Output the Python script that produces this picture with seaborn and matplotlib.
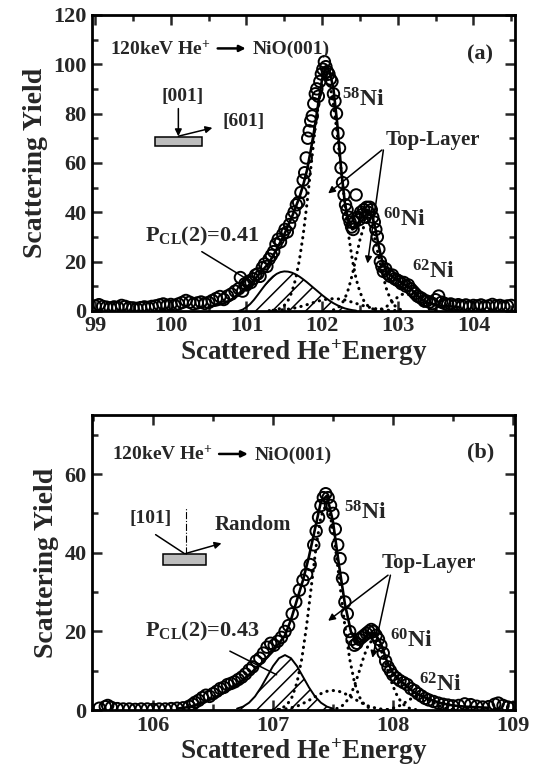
import seaborn as sns
import matplotlib.pyplot as plt
from matplotlib.patches import Rectangle
from matplotlib.ticker import MultipleLocator

sns.set_theme(style="ticks")
plt.rcParams["font.family"] = ["Liberation Serif", "DejaVu Sans"]
plt.rcParams["font.weight"] = "bold"
plt.rcParams["axes.labelweight"] = "bold"
plt.rcParams["mathtext.fontset"] = "custom"
plt.rcParams["mathtext.rm"] = "Liberation Serif:bold"
plt.rcParams["mathtext.bf"] = "Liberation Serif:bold"
plt.rcParams["mathtext.it"] = "Liberation Serif:bold:italic"
plt.rcParams["mathtext.default"] = "rm"
plt.rcParams["hatch.linewidth"] = 1.1

# ---------------- panel (a) data ----------------
a_x = [99.00, 99.05, 99.10, 99.15, 99.20, 99.25, 99.30, 99.35, 99.40, 99.45,
       99.50, 99.55, 99.60, 99.65, 99.70, 99.75, 99.80, 99.85, 99.90, 99.95,
       100.00, 100.05, 100.10, 100.15, 100.20, 100.25, 100.30, 100.35, 100.40, 100.45,
       100.50, 100.55, 100.60, 100.65, 100.70, 100.75, 100.80, 100.85, 100.90, 100.92,
       100.95, 100.98, 101.00, 101.03, 101.06, 101.09, 101.12, 101.15, 101.18, 101.21,
       101.24, 101.27, 101.30, 101.33, 101.36, 101.39, 101.42, 101.45, 101.48, 101.51,
       101.54, 101.57, 101.60, 101.63, 101.66, 101.69, 101.72, 101.75, 101.77, 101.79,
       101.81, 101.83, 101.85, 101.87, 101.89, 101.91, 101.93, 101.95, 101.97, 101.99,
       102.01, 102.03, 102.05, 102.07, 102.09, 102.11, 102.13, 102.15, 102.17, 102.19,
       102.21, 102.23, 102.25, 102.27, 102.29, 102.31, 102.33, 102.35, 102.37, 102.39,
       102.41, 102.43, 102.45, 102.47, 102.49, 102.51, 102.53, 102.55, 102.57, 102.59,
       102.61, 102.63, 102.65, 102.67, 102.69, 102.71, 102.73, 102.75, 102.77, 102.79,
       102.81, 102.84, 102.87, 102.90, 102.93, 102.96, 102.99, 103.02, 103.05, 103.08,
       103.11, 103.14, 103.17, 103.20, 103.23, 103.26, 103.29, 103.32, 103.35, 103.38,
       103.42, 103.46, 103.50, 103.54, 103.58, 103.62, 103.66, 103.70, 103.75, 103.80,
       103.85, 103.90, 103.95, 104.00, 104.05, 104.10, 104.15, 104.20, 104.25, 104.30,
       104.35, 104.40, 104.45, 104.50]
a_y = [2.0, 2.5, 1.8, 1.5, 1.2, 1.6, 1.4, 2.2, 1.8, 1.3,
       1.2, 1.0, 1.3, 1.6, 1.4, 1.8, 2.0, 2.4, 2.8, 2.2,
       2.6, 2.2, 2.8, 3.4, 4.2, 3.5, 2.8, 3.2, 3.6, 3.0,
       3.4, 4.2, 5.0, 5.8, 4.6, 6.0, 6.8, 8.0, 9.0, 13.5,
       8.0, 11.0, 10.5, 12.0, 11.5, 13.0, 14.5, 15.0, 14.0, 17.5,
       19.0, 18.0, 21.0, 22.5, 24.0, 27.0, 29.0, 28.0, 31.0, 33.0,
       32.0, 35.0, 38.0, 40.0, 43.0, 44.0, 48.0, 53.0, 56.0, 62.0,
       70.0, 73.0, 77.0, 79.0, 84.0, 88.0, 90.0, 87.0, 93.0, 96.0,
       98.0, 101.0, 99.0, 97.0, 96.0, 94.0, 93.0, 88.0, 85.0, 80.0,
       72.0, 66.0, 58.0, 52.0, 47.0, 43.0, 41.0, 38.0, 36.0, 34.0,
       33.0, 36.0, 47.0, 38.0, 37.0, 40.0, 39.0, 41.0, 38.0, 42.0,
       40.0, 42.0, 41.0, 38.0, 36.0, 33.0, 30.0, 25.0, 20.0, 18.0,
       16.0, 17.0, 15.0, 14.0, 14.5, 13.0, 12.5, 12.0, 11.0, 11.5,
       10.0, 10.5, 9.0, 8.0, 7.0, 6.0, 5.5, 5.0, 4.0, 4.0,
       3.5, 3.0, 4.5, 6.0, 3.5, 3.0, 2.5, 2.8, 2.2, 2.5,
       2.0, 2.4, 1.8, 2.2, 2.0, 2.4, 1.8, 2.0, 2.6, 2.0,
       2.2, 1.8, 2.0, 2.2]

a_fit_x = [100.5, 100.6, 100.7, 100.8, 100.9, 101.0, 101.1, 101.2, 101.3, 101.4,
           101.5, 101.6, 101.7, 101.75, 101.8, 101.85, 101.9, 101.95, 102.0, 102.05,
           102.1, 102.15, 102.2, 102.25, 102.3, 102.35, 102.4, 102.45, 102.5, 102.55,
           102.6, 102.65, 102.7, 102.75, 102.8, 102.85, 102.9, 102.95, 103.0, 103.05,
           103.1, 103.15, 103.2, 103.25, 103.3, 103.35, 103.4, 103.5, 103.6, 103.8]
a_fit_y = [1.8, 2.2, 3.0, 4.5, 7.0, 9.5, 12.5, 16.0, 19.5, 25.0,
           31.0, 38.0, 46.0, 51.0, 57.0, 65.0, 74.0, 84.0, 94.0, 99.0,
           97.0, 90.0, 76.0, 58.0, 44.0, 36.0, 33.0, 34.0, 37.0, 40.0,
           41.0, 39.5, 34.0, 26.0, 19.5, 16.0, 14.5, 13.5, 12.5, 11.5,
           10.5, 9.5, 8.0, 6.5, 5.0, 4.0, 3.3, 2.5, 2.0, 1.6]

a_cl_x = [100.90, 100.95, 101.00, 101.05, 101.10, 101.15, 101.20, 101.25, 101.30, 101.35,
          101.40, 101.45, 101.50, 101.55, 101.60, 101.65, 101.70, 101.75, 101.80, 101.85,
          101.90, 101.95, 102.00, 102.05, 102.10, 102.15, 102.20, 102.25, 102.30, 102.35,
          102.40, 102.45]
a_cl_y = [0.0, 0.5, 1.5, 2.8, 4.5, 6.5, 8.6, 10.6, 12.4, 13.9,
          15.0, 15.7, 16.0, 15.9, 15.5, 14.8, 13.9, 12.8, 11.6, 10.3,
          9.0, 7.7, 6.4, 5.2, 4.1, 3.1, 2.3, 1.6, 1.0, 0.6,
          0.3, 0.1]

a_ni58_x = [101.35, 101.40, 101.45, 101.50, 101.55, 101.60, 101.65, 101.70, 101.75, 101.80,
            101.85, 101.90, 101.95, 102.00, 102.05, 102.10, 102.15, 102.20, 102.25, 102.30,
            102.35, 102.40, 102.45, 102.50, 102.55, 102.60, 102.65, 102.70, 102.75]
a_ni58_y = [0.2, 0.5, 1.0, 2.2, 4.2, 7.6, 12.9, 20.6, 30.8, 43.5,
            57.6, 71.7, 83.8, 92.1, 95.0, 92.1, 83.8, 71.7, 57.6, 43.5,
            30.8, 20.6, 12.9, 7.6, 4.2, 2.2, 1.0, 0.5, 0.2]

a_ni60_x = [102.15, 102.20, 102.25, 102.30, 102.35, 102.40, 102.45, 102.50, 102.55, 102.60,
            102.65, 102.70, 102.75, 102.80, 102.85, 102.90, 102.95, 103.00, 103.05]
a_ni60_y = [0.4, 1.0, 2.4, 4.9, 9.0, 14.8, 21.8, 28.8, 34.1, 36.0,
            34.1, 28.8, 21.8, 14.8, 9.0, 4.9, 2.4, 1.0, 0.4]

a_ni62_x = [102.70, 102.75, 102.80, 102.85, 102.90, 102.95, 103.00, 103.05, 103.10, 103.15,
            103.20, 103.25, 103.30, 103.35, 103.40, 103.45, 103.50]
a_ni62_y = [0.2, 0.5, 0.9, 1.7, 2.9, 4.2, 5.6, 6.6, 7.0, 6.6,
            5.6, 4.2, 2.9, 1.7, 0.9, 0.5, 0.2]

a_sub_x = [101.3, 101.4, 101.5, 101.6, 101.7, 101.8, 101.9, 102.0, 102.1, 102.2,
           102.3, 102.4, 102.5, 102.6, 102.7, 102.8, 102.9, 103.0]
a_sub_y = [0.1, 0.2, 0.5, 0.9, 1.6, 2.5, 3.5, 4.4, 4.9, 4.9,
           4.4, 3.5, 2.5, 1.6, 0.9, 0.5, 0.2, 0.1]

# ---------------- panel (b) data ----------------
b_x = [105.55, 105.60, 105.62, 105.65, 105.70, 105.75, 105.80, 105.85, 105.90, 105.95,
       106.00, 106.05, 106.10, 106.15, 106.20, 106.25, 106.30, 106.33,
       106.35, 106.38, 106.41, 106.44, 106.47, 106.50, 106.53, 106.56, 106.59, 106.62,
       106.65, 106.68, 106.71, 106.74, 106.77, 106.80, 106.83, 106.86, 106.89, 106.92,
       106.95, 106.98, 107.01, 107.04, 107.07, 107.10, 107.13, 107.16, 107.19, 107.22,
       107.25, 107.28, 107.31, 107.34, 107.36, 107.38, 107.40, 107.42, 107.44, 107.46,
       107.48, 107.50, 107.52, 107.54, 107.56, 107.58, 107.60, 107.62, 107.64, 107.66,
       107.68, 107.70, 107.72, 107.74, 107.76, 107.78, 107.80, 107.82, 107.84, 107.86,
       107.88, 107.90, 107.92, 107.94, 107.96, 107.98, 108.00, 108.03, 108.06, 108.09,
       108.12, 108.15, 108.18, 108.21, 108.24, 108.27, 108.30, 108.34, 108.38, 108.42,
       108.46, 108.50, 108.55, 108.60, 108.65, 108.70, 108.75, 108.80, 108.85, 108.88,
       108.92, 108.96, 109.00]
b_y = [0.5, 0.9, 1.2, 0.7, 0.4, 0.3, 0.3, 0.2, 0.3, 0.3,
       0.2, 0.3, 0.3, 0.4, 0.5, 0.6, 1.0, 1.5,
       2.0, 2.5, 3.2, 3.8, 3.5, 4.2, 4.8, 5.5, 5.8, 6.5,
       6.8, 7.2, 7.8, 8.4, 9.2, 10.2, 11.0, 12.5, 13.2, 14.5,
       16.0, 17.0, 16.5, 17.5, 18.5, 20.0, 21.5, 24.5, 27.5, 30.5,
       33.0, 34.5, 37.0, 42.0, 45.5, 49.0, 52.0, 54.0, 55.0, 54.0,
       52.0, 50.0, 46.0, 42.0, 38.5, 33.5, 27.5, 24.5, 20.0, 18.0,
       16.5, 17.0, 18.0, 18.5, 19.0, 19.5, 20.0, 20.5, 20.0, 19.0,
       18.0, 16.5, 14.5, 12.5, 11.0, 10.0, 9.0, 8.2, 7.5, 7.0,
       6.5, 5.5, 5.0, 4.2, 3.6, 3.0, 2.6, 2.2, 1.8, 1.5,
       1.3, 1.1, 1.2, 1.6, 1.4, 1.0, 0.8, 0.9, 1.5, 1.8,
       1.2, 0.8, 0.6]

b_fit_x = [106.2, 106.3, 106.4, 106.5, 106.6, 106.7, 106.8, 106.9, 107.0, 107.05,
           107.1, 107.15, 107.2, 107.25, 107.3, 107.35, 107.4, 107.45, 107.5, 107.55,
           107.6, 107.65, 107.7, 107.75, 107.8, 107.85, 107.9, 107.95, 108.0, 108.05,
           108.1, 108.15, 108.2, 108.3, 108.4, 108.5, 108.6, 108.8]
b_fit_y = [0.4, 0.8, 1.8, 3.0, 4.6, 6.5, 9.0, 11.8, 15.0, 17.0,
           19.0, 23.0, 28.0, 33.0, 39.0, 46.0, 53.0, 54.5, 48.0, 37.0,
           27.0, 20.0, 17.0, 17.8, 19.5, 19.6, 17.0, 12.5, 9.5, 7.8,
           6.5, 5.2, 4.2, 2.8, 1.8, 1.2, 0.9, 0.6]

b_cl_x = [106.70, 106.75, 106.80, 106.85, 106.90, 106.95, 107.00, 107.05, 107.10, 107.15,
          107.20, 107.25, 107.30, 107.35, 107.40, 107.45, 107.50]
b_cl_y = [0.4, 0.9, 1.9, 3.5, 5.8, 8.5, 11.2, 13.2, 14.0, 13.2,
          11.2, 8.5, 5.8, 3.5, 1.9, 0.9, 0.4]

b_ni58_x = [107.04, 107.08, 107.12, 107.16, 107.20, 107.24, 107.28, 107.32, 107.36, 107.40,
            107.44, 107.48, 107.52, 107.56, 107.60, 107.64, 107.68, 107.72, 107.76, 107.80,
            107.84]
b_ni58_y = [0.2, 0.6, 1.5, 3.4, 7.0, 13.0, 21.4, 31.5, 41.6, 49.2,
            52.0, 49.2, 41.6, 31.5, 21.4, 13.0, 7.0, 3.4, 1.5, 0.6,
            0.2]

b_ni60_x = [107.48, 107.52, 107.56, 107.60, 107.64, 107.68, 107.72, 107.76, 107.80, 107.84,
            107.88, 107.92, 107.96, 108.00, 108.04, 108.08, 108.12, 108.16, 108.20]
b_ni60_y = [0.1, 0.3, 0.7, 1.7, 3.4, 6.2, 9.9, 13.8, 16.9, 18.0,
            16.9, 13.8, 9.9, 6.2, 3.4, 1.7, 0.7, 0.3, 0.1]

b_ni62_x = [107.90, 107.94, 107.98, 108.02, 108.06, 108.10, 108.14, 108.18, 108.22, 108.26,
            108.30, 108.34, 108.38, 108.42, 108.46, 108.50, 108.54]
b_ni62_y = [0.05, 0.1, 0.3, 0.7, 1.2, 1.9, 2.7, 3.3, 3.5, 3.3,
            2.7, 1.9, 1.2, 0.7, 0.3, 0.1, 0.05]

b_sub_x = [107.00, 107.05, 107.10, 107.15, 107.20, 107.25, 107.30, 107.35, 107.40, 107.45,
           107.50, 107.55, 107.60, 107.65, 107.70, 107.75, 107.80, 107.85, 107.90, 107.95,
           108.00]
b_sub_y = [0.1, 0.15, 0.3, 0.6, 1.0, 1.7, 2.5, 3.4, 4.2, 4.8,
           5.0, 4.8, 4.2, 3.4, 2.5, 1.7, 1.0, 0.6, 0.3, 0.15, 0.1]


def draw_panel(ax, dx, dy, fx, fy, clx, cly, dotted):
    ax.fill_between(clx, cly, 0, facecolor="none", edgecolor="black",
                    hatch="//", linewidth=0)
    sns.lineplot(x=clx, y=cly, ax=ax, color="black", lw=1.4)
    for cx, cy in dotted:
        sns.lineplot(x=cx, y=cy, ax=ax, color="black", lw=2.2,
                     linestyle=(0, (0.1, 2.0)), dash_capstyle="round")
    sns.lineplot(x=fx, y=fy, ax=ax, color="black", lw=1.9)
    sns.scatterplot(x=dx, y=dy, ax=ax, marker="o", s=68, facecolors="none",
                    edgecolor="black", linewidth=1.4, zorder=3)
    ax.tick_params(which="both", direction="in", top=True, right=True,
                   width=1.8, labelsize=16, pad=4)
    ax.tick_params(which="major", length=7)
    ax.tick_params(which="minor", length=4)
    for sp in ax.spines.values():
        sp.set_linewidth(2.0)
        sp.set_color("black")
    ax.xaxis.set_major_locator(MultipleLocator(1))
    ax.xaxis.set_minor_locator(MultipleLocator(0.5))
    ax.yaxis.set_major_locator(MultipleLocator(20))
    ax.yaxis.set_minor_locator(MultipleLocator(10))
    ax.set_xlabel("Scattered He$^{+}$Energy", fontsize=19.5, labelpad=1)
    ax.set_ylabel("Scattering Yield", fontsize=20, labelpad=4)


def arrow(ax, start, end, head=True, lw=1.1):
    ax.annotate("", xy=end, xytext=start,
                arrowprops=dict(arrowstyle="-|>" if head else "-", color="black",
                                lw=lw, mutation_scale=10, shrinkA=0, shrinkB=0))


def title_text(ax, x0, x1, x2, x3, y, ya):
    ax.text(x0, y, "120keV He$^{+}$", fontsize=14, ha="left", va="baseline")
    ax.annotate("", xy=(x2, ya), xytext=(x1, ya),
                arrowprops=dict(arrowstyle="-|>", color="black", lw=1.8,
                                mutation_scale=9, shrinkA=0, shrinkB=0))
    ax.text(x3, y, "NiO(001)", fontsize=14, ha="left", va="baseline")


fig = plt.figure(figsize=(5.45, 7.83), dpi=100)
ax1 = fig.add_axes([0.169, 0.603, 0.776, 0.378])
ax2 = fig.add_axes([0.169, 0.093, 0.776, 0.377])

# panel (a)
draw_panel(ax1, a_x, a_y, a_fit_x, a_fit_y, a_cl_x, a_cl_y,
           [(a_ni58_x, a_ni58_y), (a_ni60_x, a_ni60_y),
            (a_ni62_x, a_ni62_y), (a_sub_x, a_sub_y)])
ax1.set_xlim(98.96, 104.55)
ax1.set_ylim(0, 120)

title_text(ax1, 99.2, 100.62, 100.99, 101.08, 104.0, 106.4)
ax1.text(104.09, 104, "(a)", fontsize=16, ha="center", va="center")
ax1.text(100.16, 87, "[001]", fontsize=14, ha="center", va="center")
ax1.add_patch(Rectangle((99.79, 66.8), 0.62, 3.8, facecolor="#bdbdbd",
                        edgecolor="black", lw=1.1))
arrow(ax1, (100.1, 82), (100.1, 70.8))
arrow(ax1, (100.1, 70.8), (100.55, 74.2))
ax1.text(100.96, 76.7, "[601]", fontsize=14, ha="center", va="center")
ax1.text(102.55, 85.5, "$^{58}$Ni", fontsize=17, ha="center", va="center")
ax1.text(103.47, 69.3, "Top-Layer", fontsize=15, ha="center", va="center")
arrow(ax1, (102.79, 65.2), (102.08, 47.6))
arrow(ax1, (102.81, 65.2), (102.6, 19.2))
ax1.text(103.08, 36.8, "$^{60}$Ni", fontsize=17, ha="center", va="center")
ax1.text(103.47, 15.8, "$^{62}$Ni", fontsize=17, ha="center", va="center")
ax1.text(100.41, 30, "P$_{CL}$(2)=0.41", fontsize=16, ha="center", va="center")
arrow(ax1, (100.41, 24), (101.1, 11.1), head=False)

# panel (b)
draw_panel(ax2, b_x, b_y, b_fit_x, b_fit_y, b_cl_x, b_cl_y,
           [(b_ni58_x, b_ni58_y), (b_ni60_x, b_ni60_y),
            (b_ni62_x, b_ni62_y), (b_sub_x, b_sub_y)])
ax2.set_xlim(105.49, 109.02)
ax2.set_ylim(0, 75)

title_text(ax2, 105.66, 106.55, 106.79, 106.85, 63.7, 65.1)
ax2.text(108.73, 65.5, "(b)", fontsize=16, ha="center", va="center")
ax2.text(105.98, 48.8, "[101]", fontsize=14, ha="center", va="center")
ax2.plot([106.27, 106.27], [39.8, 51.4], color="black", lw=0.8, ls="-.")
arrow(ax2, (106.02, 44.6), (106.26, 39.8), head=False)
arrow(ax2, (106.27, 39.8), (106.57, 42.4))
ax2.text(106.83, 47.1, "Random", fontsize=15, ha="center", va="center")
ax2.add_patch(Rectangle((106.08, 36.8), 0.36, 2.9, facecolor="#bdbdbd",
                        edgecolor="black", lw=1.1))
ax2.text(107.77, 50.1, "$^{58}$Ni", fontsize=17, ha="center", va="center")
ax2.text(108.3, 37.3, "Top-Layer", fontsize=15, ha="center", va="center")
arrow(ax2, (107.96, 34.3), (107.46, 22.7))
arrow(ax2, (107.98, 34.3), (107.83, 13.3))
ax2.text(108.15, 17.6, "$^{60}$Ni", fontsize=17, ha="center", va="center")
ax2.text(108.4, 6.4, "$^{62}$Ni", fontsize=17, ha="center", va="center")
ax2.text(106.41, 20.1, "P$_{CL}$(2)=0.43", fontsize=16, ha="center", va="center")
arrow(ax2, (106.64, 15), (107.03, 9), head=False)

fig.savefig("out.png", dpi=100)
